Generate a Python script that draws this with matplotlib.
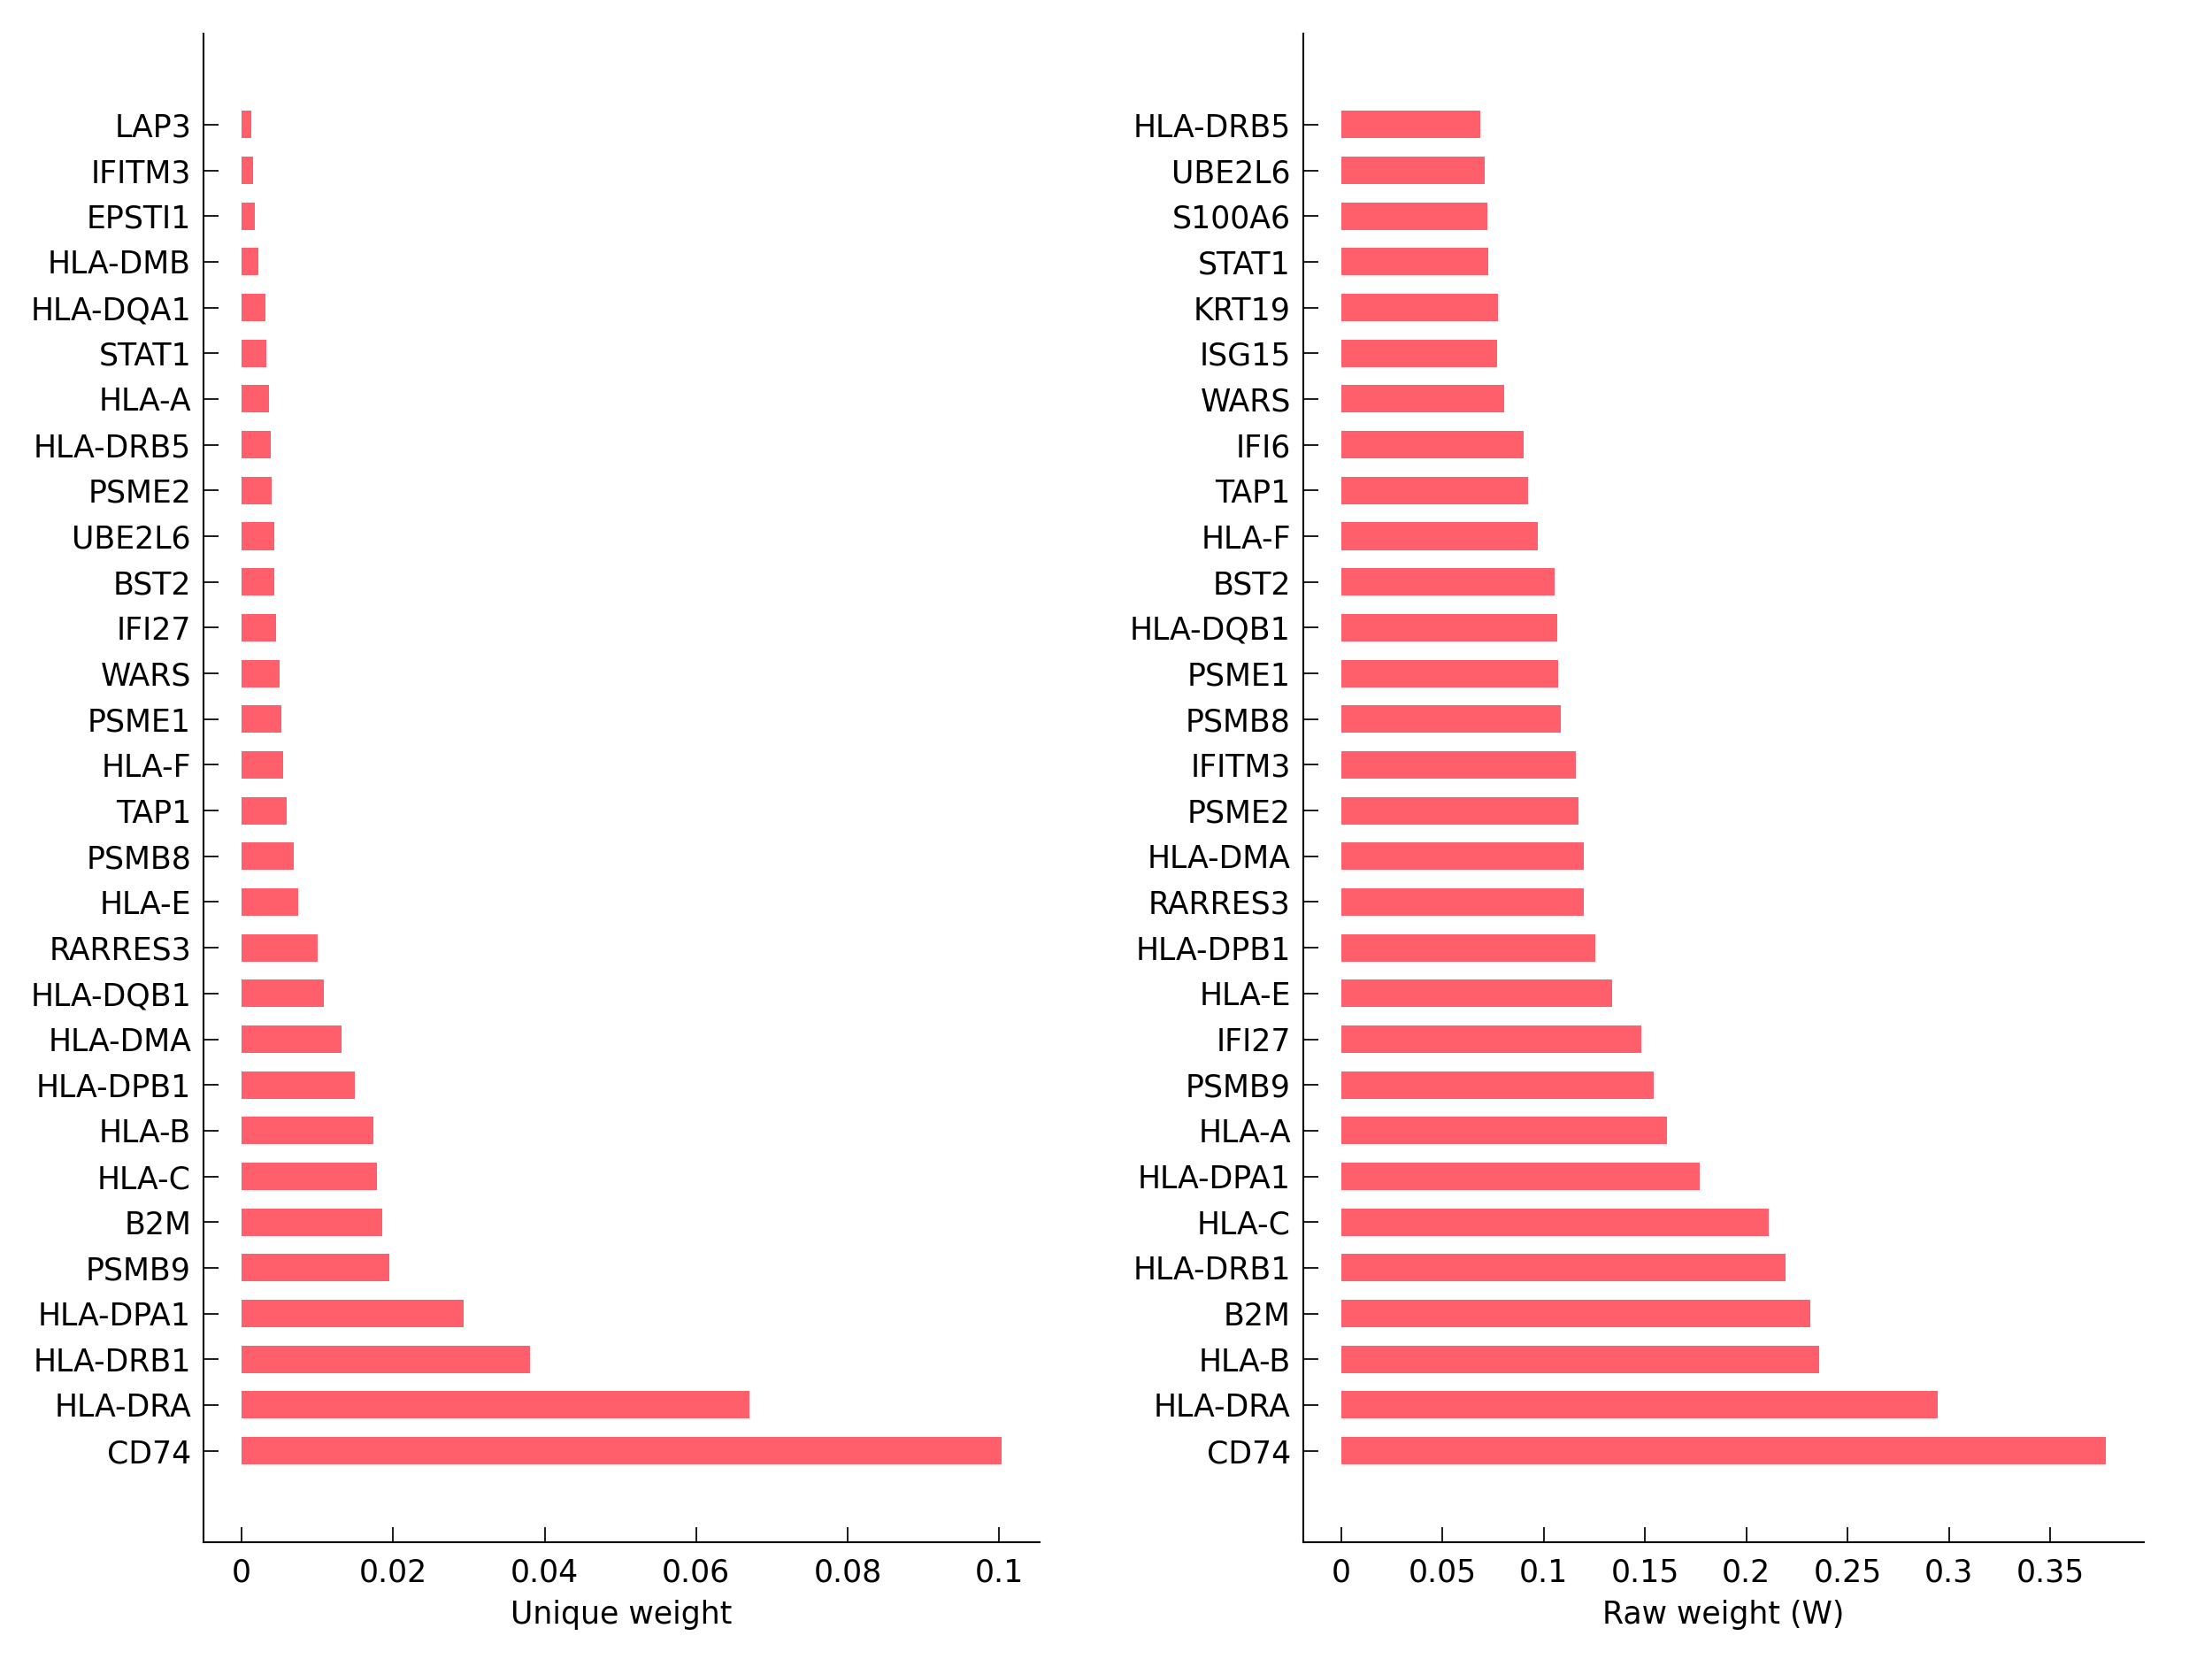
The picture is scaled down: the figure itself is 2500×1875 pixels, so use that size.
import matplotlib
matplotlib.use('Agg')
import matplotlib.pyplot as plt
import numpy as np

# left panel: unique weights (top to bottom as shown)
unique_genes = ['LAP3', 'IFITM3', 'EPSTI1', 'HLA-DMB', 'HLA-DQA1', 'STAT1',
                'HLA-A', 'HLA-DRB5', 'PSME2', 'UBE2L6', 'BST2', 'IFI27',
                'WARS', 'PSME1', 'HLA-F', 'TAP1', 'PSMB8', 'HLA-E', 'RARRES3',
                'HLA-DQB1', 'HLA-DMA', 'HLA-DPB1', 'HLA-B', 'HLA-C', 'B2M',
                'PSMB9', 'HLA-DPA1', 'HLA-DRB1', 'HLA-DRA', 'CD74']
unique_vals = [0.00127, 0.00158, 0.00177, 0.00219, 0.00315, 0.00323,
               0.00365, 0.00388, 0.00392, 0.0043, 0.00434, 0.00454,
               0.0050, 0.00523, 0.00554, 0.00596, 0.00688, 0.0075, 0.0100,
               0.01088, 0.01323, 0.01496, 0.01738, 0.01788, 0.01858,
               0.01953, 0.0293, 0.0381, 0.0670, 0.1003]

# right panel: raw weights (top to bottom as shown)
raw_genes = ['HLA-DRB5', 'UBE2L6', 'S100A6', 'STAT1', 'KRT19', 'ISG15',
             'WARS', 'IFI6', 'TAP1', 'HLA-F', 'BST2', 'HLA-DQB1', 'PSME1',
             'PSMB8', 'IFITM3', 'PSME2', 'HLA-DMA', 'RARRES3', 'HLA-DPB1',
             'HLA-E', 'IFI27', 'PSMB9', 'HLA-A', 'HLA-DPA1', 'HLA-C',
             'HLA-DRB1', 'B2M', 'HLA-B', 'HLA-DRA', 'CD74']
raw_vals = [0.0684, 0.0710, 0.0720, 0.0726, 0.0772, 0.0771,
            0.0805, 0.0899, 0.0924, 0.0970, 0.1055, 0.1065, 0.1070,
            0.1083, 0.1156, 0.1169, 0.1196, 0.1198, 0.1255,
            0.1337, 0.1479, 0.1544, 0.1607, 0.1770, 0.2112,
            0.2192, 0.2314, 0.2359, 0.2944, 0.3772]

unique_ticks = [0, 0.02, 0.04, 0.06, 0.08, 0.1]
unique_ticklabels = ['0', '0.02', '0.04', '0.06', '0.08', '0.1']
raw_ticks = [0, 0.05, 0.1, 0.15, 0.2, 0.25, 0.3, 0.35]
raw_ticklabels = ['0', '0.05', '0.1', '0.15', '0.2', '0.25', '0.3', '0.35']

bar_color = '#FF5E6B'

plt.rcParams['font.family'] = ['DejaVu Sans']
plt.rcParams['font.size'] = 10

fig = plt.figure(figsize=(10, 7.5), dpi=250)
ax1 = fig.add_axes([0.092, 0.0704, 0.378, 0.9096])
ax2 = fig.add_axes([0.5891, 0.0704, 0.380, 0.9096])


def draw_panel(ax, genes, vals, ticks, ticklabels, xlabel):
    n = len(genes)
    ypos = np.arange(n)[::-1]
    ax.barh(ypos, vals, height=0.6, color=bar_color, linewidth=0)
    ax.set_yticks(ypos)
    ax.set_yticklabels(genes)
    ax.set_xticks(ticks)
    ax.set_xticklabels(ticklabels)
    vmax = max(vals)
    ax.set_xlim(-0.05 * vmax, 1.05 * vmax)
    ax.set_ylim(-2, n + 1)
    ax.set_xlabel(xlabel, labelpad=4)
    for s in ['top', 'right']:
        ax.spines[s].set_visible(False)
    for s in ['left', 'bottom']:
        ax.spines[s].set_linewidth(0.6)
    ax.tick_params(axis='x', direction='in', length=5, width=0.5, pad=5)
    ax.tick_params(axis='y', direction='in', length=5, width=0.5, pad=4)


draw_panel(ax1, unique_genes, unique_vals, unique_ticks, unique_ticklabels,
           'Unique weight')
draw_panel(ax2, raw_genes, raw_vals, raw_ticks, raw_ticklabels,
           'Raw weight (W)')

fig.savefig('out.png', dpi=250, facecolor='white')
